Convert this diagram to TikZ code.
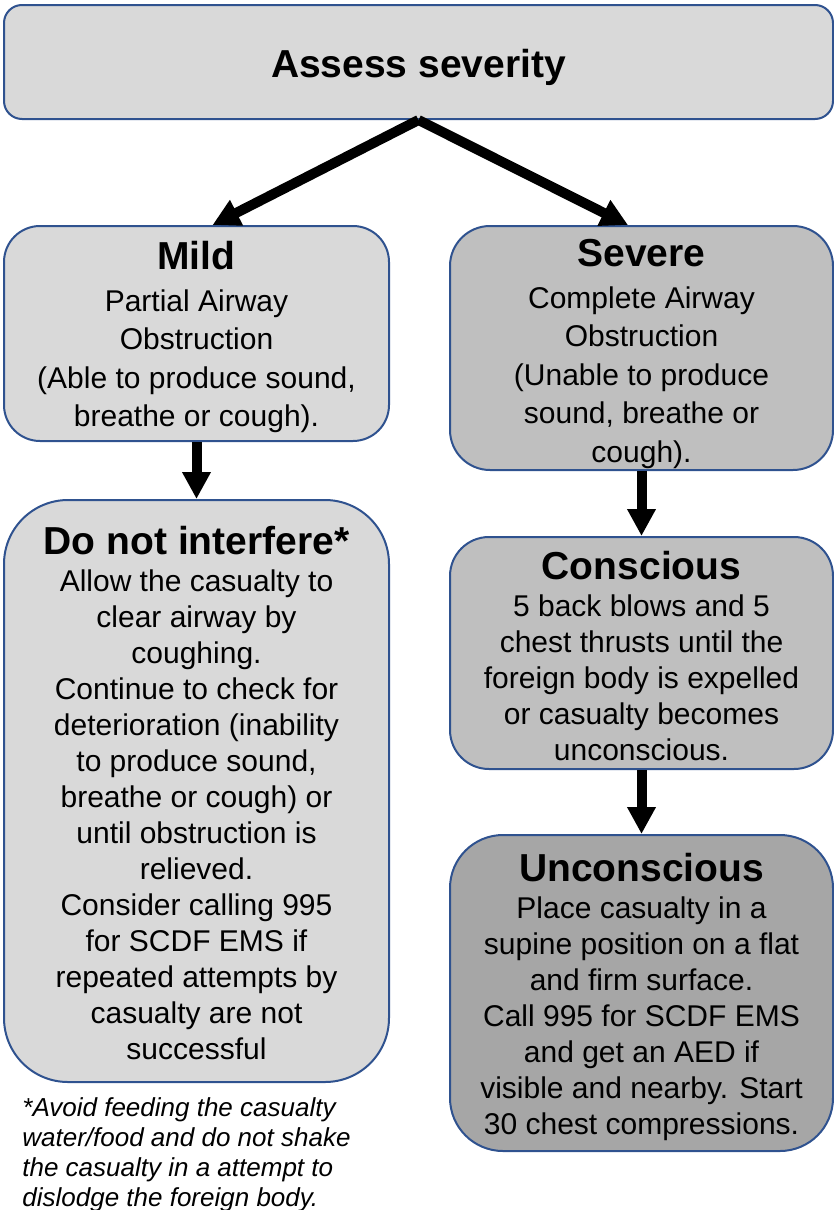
\documentclass[tikz,border=0pt]{standalone}
\usepackage{fontspec}
\setmainfont{Liberation Sans}
\usetikzlibrary{arrows.meta}
\definecolor{bord}{HTML}{2F528F}
\definecolor{gA}{HTML}{D9D9D9}
\definecolor{gB}{HTML}{BFBFBF}
\definecolor{gC}{HTML}{A6A6A6}
\newcommand{\ttl}[2][3pt]{{\fontsize{19.5}{19.5}\selectfont\bfseries\rule{0pt}{\dimexpr14.3pt+#1\relax}#2}}
\begin{document}
\begin{tikzpicture}[x=0.5pt,y=-0.5pt,
  box/.style={draw=bord, line width=1pt, inner sep=0pt, align=center},
  bodyA/.style={font=\fontsize{15}{19.25}\selectfont},
  bodyB/.style={font=\fontsize{15}{18}\selectfont},
  arr/.style={line width=5pt, -{Triangle[length=13.5pt,width=13.5pt]}}]
\useasboundingbox (0,0) rectangle (834,1210);

\node[box, fill=gA, rounded corners=9pt, minimum width=414.5pt, minimum height=57pt]
  (top) at (418.5,62) {\ttl[5pt]{Assess severity}};

\node[box, bodyA, fill=gA, rounded corners=18pt, minimum width=192.5pt, minimum height=107.5pt]
  (mild) at (196.5,333.5) {\ttl[3.5pt]{Mild}\\[1.75pt]Partial Airway\\Obstruction\\(Able to produce sound,\\breathe or cough).};

\node[box, bodyA, fill=gB, rounded corners=20pt, minimum width=191.5pt, minimum height=122pt]
  (severe) at (641.5,348) {\ttl[5pt]{Severe}\\[1.75pt]Complete Airway\\Obstruction\\(Unable to produce\\sound, breathe or\\cough).};

\node[box, bodyB, fill=gA, rounded corners=32pt, minimum width=192.5pt, minimum height=291pt]
  (dni) at (196.5,791) {\ttl[1.5pt]{Do not interfere*}\\[0.5pt]Allow the casualty to\\clear airway by\\coughing.\\Continue to check for\\deterioration (inability\\to produce sound,\\breathe or cough) or\\until obstruction is\\relieved.\\Consider calling 995\\for SCDF EMS  if\\repeated attempts by\\casualty are not\\successful};

\node[box, bodyB, fill=gB, rounded corners=19.5pt, minimum width=191.5pt, minimum height=116pt]
  (consc) at (641.5,653) {\ttl[3pt]{Conscious}\\[0.5pt]5 back blows and 5\\chest thrusts until the\\foreign body is expelled\\or casualty becomes\\unconscious.};

\node[box, bodyB, fill=gC, rounded corners=26.5pt, minimum width=191.5pt, minimum height=158pt]
  (uncon) at (641.5,993) {\ttl[3.5pt]{Unconscious}\\[0.5pt]Place casualty in a\\supine position on a flat\\and firm surface.\\Call 995 for SCDF EMS\\and get an AED if\\visible and nearby. Start\\30 chest compressions.};

\node[anchor=base west, align=left, inner sep=0pt, font=\fontsize{13}{15}\selectfont\itshape]
  (note) at (22,1206) {*Avoid feeding the casualty\\water/food and do not shake\\the casualty in a attempt to\\dislodge the foreign body.};

\draw[arr] (top.south) -- ([xshift=8pt]mild.north);
\draw[arr] (top.south) -- ([xshift=-6.75pt]severe.north);
\draw[arr] (mild.south) -- (dni.north);
\draw[arr] (severe.south) -- (consc.north);
\draw[arr] (consc.south) -- (uncon.north);
\end{tikzpicture}
\end{document}
